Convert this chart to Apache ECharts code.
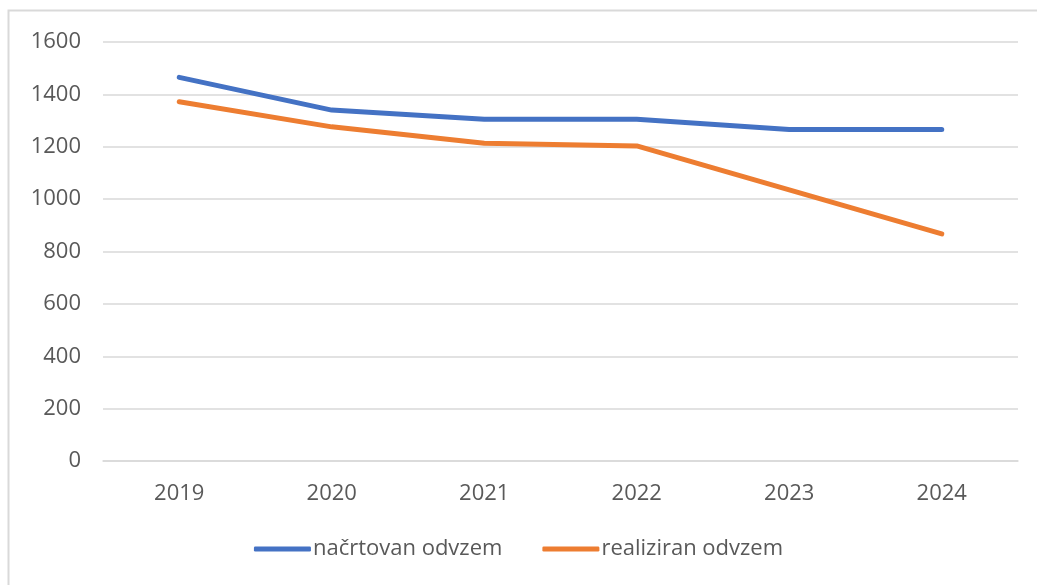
<!DOCTYPE html>
<html>
<head>
<meta charset="utf-8">
<script src="https://cdn.jsdelivr.net/npm/echarts@6/dist/echarts.min.js"></script>
<style>
html,body{margin:0;padding:0;background:#fff;}
#main{width:1037px;height:585px;}
</style>
</head>
<body>
<div id="main"></div>
<script>
var years = ['2019', '2020', '2021', '2022', '2023', '2024'];
var planned = [1465, 1340, 1305, 1305, 1266, 1266];
var realized = [1372, 1276, 1213, 1203, 1035, 867];
var seriesNames = ['načrtovan odvzem', 'realiziran odvzem'];

var myChart = echarts.init(document.getElementById('main'));
var option = {
	backgroundColor: '#fff',
	textStyle: { fontFamily: 'Open Sans' },
	graphic: [{
		type: 'rect',
		shape: { x: 8.5, y: 10.5, width: 1040, height: 600 },
		style: { fill: 'none', stroke: '#d9d9d9', lineWidth: 2 },
		silent: true
	}],
	grid: { left: 103, right: 19, top: 42, bottom: 124 },
	legend: {
		data: seriesNames,
		bottom: 20,
		left: 'center',
		icon: 'roundRect',
		itemWidth: 57,
		itemHeight: 5,
		itemGap: 40,
		textStyle: { color: '#595959', fontSize: 22, fontFamily: 'Open Sans', padding: [0, 0, 0, -3] }
	},
	xAxis: {
		type: 'category',
		data: years,
		axisLine: { lineStyle: { color: '#d9d9d9', width: 1.5 } },
		axisTick: { show: false },
		axisLabel: { color: '#595959', fontSize: 22, margin: 22 }
	},
	yAxis: {
		type: 'value',
		min: 0,
		max: 1600,
		interval: 200,
		axisLine: { show: false },
		axisTick: { show: false },
		axisLabel: {
			color: '#595959', fontSize: 22, margin: 22,
			formatter: function (v) { return String(v); }
		},
		splitLine: { lineStyle: { color: '#d9d9d9', width: 1.5 } }
	},
	series: [
		{
			name: seriesNames[0],
			type: 'line',
			data: planned,
			symbol: 'none',
			color: '#4472C4',
			lineStyle: { width: 5, cap: 'round', join: 'round' }
		},
		{
			name: seriesNames[1],
			type: 'line',
			data: realized,
			symbol: 'none',
			color: '#ED7D31',
			lineStyle: { width: 5, cap: 'round', join: 'round' }
		}
	]
};
myChart.setOption(option);
</script>
</body>
</html>
